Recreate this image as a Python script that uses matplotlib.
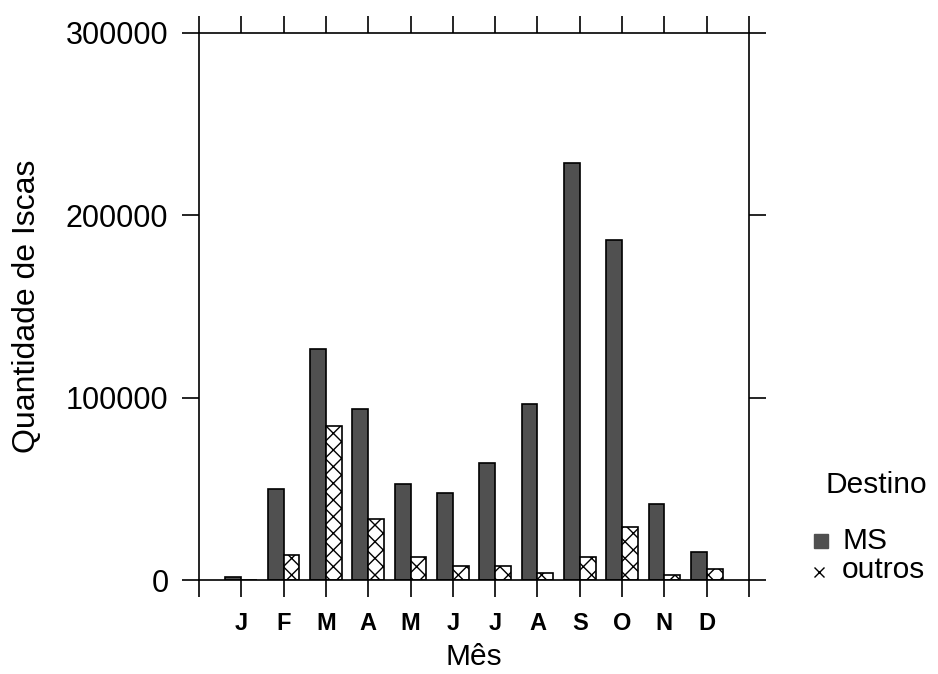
import matplotlib
matplotlib.use("Agg")
import matplotlib.pyplot as plt
from matplotlib.lines import Line2D
import numpy as np

plt.rcParams['font.family'] = ['Liberation Sans', 'DejaVu Sans']
plt.rcParams['hatch.linewidth'] = 1.0

months = ['J', 'F', 'M', 'A', 'M', 'J', 'J', 'A', 'S', 'O', 'N', 'D']
ms_values = [1500, 49800, 126800, 93700, 52400, 47800, 64200, 96200, 228600, 186400, 41600, 15500]
outros_values = [0, 13500, 84300, 33400, 12400, 7600, 7500, 3700, 12400, 28800, 2700, 6000]
yticks = [0, 100000, 200000, 300000]
legend_title = 'Destino'
legend_labels = ['MS', 'outros']

W, H = 938, 674
fig = plt.figure(figsize=(W/100, H/100), dpi=100)
ax = fig.add_axes([199/W, 1 - 580/H, 550/W, (580 - 32.7)/H])

x = np.arange(1, len(months) + 1)
w = 0.375
ax.bar(x - w/2, ms_values, width=w, color='#505050', edgecolor='black', linewidth=1.2)
ax.bar(x + w/2, outros_values, width=w, color='white', edgecolor='black', linewidth=1.2, hatch='xx')

ax.set_xlim(0, 13)
ax.set_ylim(0, 300000)
ax.set_xticks(np.arange(0, 14))
ax.set_xticklabels([''] + months + [''], fontsize=17, fontweight='bold')
ax.set_yticks(yticks)
ax.set_yticklabels([str(v) for v in yticks], fontsize=22)
ax.tick_params(axis='both', direction='out', length=12, width=1.2, top=True, right=True)
ax.tick_params(axis='x', pad=11)
ax.tick_params(axis='y', pad=10)
for s in ax.spines.values():
    s.set_linewidth(1.2)

ax.set_xlabel('Mês', fontsize=21.5, labelpad=6)
ax.set_ylabel('Quantidade de Iscas', fontsize=23, labelpad=17)

# legend (drawn manually to match layout)
def fx(px):
    return px / W

def fy(py):
    return 1 - py / H

fig.text(fx(825), fy(485), legend_title, fontsize=21.5, ha='left', va='center')
fig.add_artist(Line2D([fx(821)], [fy(541)], transform=fig.transFigure, linestyle='none',
                      marker='s', markersize=10, markerfacecolor='#505050', markeredgecolor='#505050'))
fig.add_artist(Line2D([fx(819)], [fy(572)], transform=fig.transFigure, linestyle='none',
                      marker='x', markersize=7, markeredgecolor='black', markeredgewidth=1.0))
fig.text(fx(842), fy(541), legend_labels[0], fontsize=21.5, ha='left', va='center')
fig.text(fx(842), fy(578), legend_labels[1], fontsize=21.5, ha='left', va='baseline')

fig.savefig('out.png', dpi=100)
